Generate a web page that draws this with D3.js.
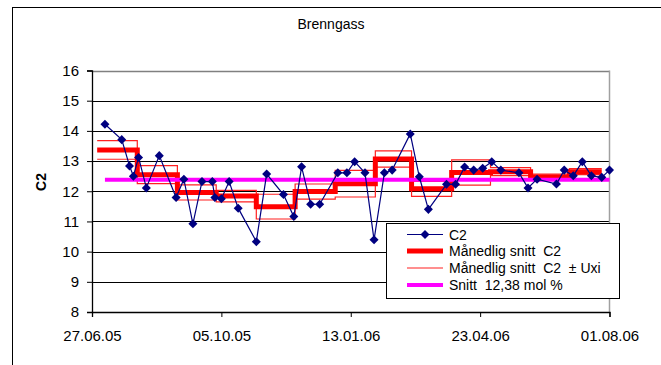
<!DOCTYPE html>
<html>
<head>
<meta charset="utf-8">
<script src="https://cdn.jsdelivr.net/npm/d3@7/dist/d3.min.js"></script>
<style>
  html, body { margin: 0; padding: 0; background: #fff; }
  svg { display: block; font-family: "Liberation Sans", Arial, sans-serif; }
</style>
</head>
<body>
<svg id="chart" width="661" height="365"></svg>
<script>
// Sample dates and measured C2 (mol %)
const sampleDates = [
  "2005-07-07","2005-07-20","2005-07-26","2005-07-29","2005-08-02","2005-08-08","2005-08-18","2005-08-31",
  "2005-09-06","2005-09-13","2005-09-20","2005-09-28","2005-09-30","2005-10-05","2005-10-11","2005-10-18",
  "2005-11-01","2005-11-09","2005-11-22","2005-11-30","2005-12-06","2005-12-13","2005-12-20","2006-01-03",
  "2006-01-10","2006-01-16","2006-01-24","2006-01-31","2006-02-08","2006-02-14","2006-02-28","2006-03-07",
  "2006-03-14","2006-03-28","2006-04-04","2006-04-11","2006-04-18","2006-04-25","2006-05-02","2006-05-09",
  "2006-05-23","2006-05-30","2006-06-06","2006-06-21","2006-06-27","2006-07-04","2006-07-11","2006-07-18",
  "2006-07-26","2006-08-01"
];
const c2Values = [
  14.22, 13.71, 12.84, 12.50, 13.12, 12.11, 13.18, 11.79,
  12.40, 10.92, 12.32, 12.32, 11.79, 11.75, 12.32, 11.44,
  10.33, 12.57, 11.89, 11.16, 12.81, 11.57, 11.57, 12.61,
  12.61, 12.98, 12.61, 10.39, 12.61, 12.70, 13.90, 12.48,
  11.40, 12.23, 12.23, 12.80, 12.70, 12.76, 12.98, 12.70,
  12.61, 12.11, 12.40, 12.24, 12.70, 12.51, 12.98, 12.51,
  12.46, 12.70
];

// Monthly periods (start of each month, last entry closes the final period)
const monthEdges = [
  "2005-07-01","2005-08-01","2005-09-01","2005-10-01","2005-11-01","2005-12-01","2006-01-01",
  "2006-02-01","2006-03-01","2006-04-01","2006-05-01","2006-06-01","2006-07-01","2006-07-26"
];
const monthlyMean = [13.37, 12.55, 11.96, 11.84, 11.49, 11.99, 12.25, 13.07, 12.08, 12.62, 12.65, 12.47, 12.65];
const monthlyU    = [0.31, 0.30, 0.25, 0.19, 0.41, 0.25, 0.44, 0.27, 0.25, 0.42, 0.13, 0.10, 0.10];

const overallMean = 12.38;

const xTickDates = ["2005-06-27","2005-10-05","2006-01-13","2006-04-23","2006-08-01"];
const yTicks = [8, 9, 10, 11, 12, 13, 14, 15, 16];

const legendLabels = ["C2", "M\u00e5nedlig snitt  C2", "M\u00e5nedlig snitt  C2  \u00b1 Uxi", "Snitt  12,38 mol %"];
const titleText = "Brenngass";
const yAxisTitle = "C2";

const parse = d3.timeParse("%Y-%m-%d");
const fmt = d3.timeFormat("%d.%m.%y");

const svg = d3.select("#chart");
const W = 661, H = 365;
const plot = { left: 92, right: 609.5, top: 70.5, bottom: 312 };

const x = d3.scaleTime()
  .domain([parse(xTickDates[0]), parse(xTickDates[xTickDates.length - 1])])
  .range([plot.left, plot.right]);
const y = d3.scaleLinear().domain([8, 16]).range([plot.bottom, plot.top]);

// Outer chart frame
svg.append("rect")
  .attr("x", 12.5).attr("y", 7.5).attr("width", W).attr("height", H)
  .attr("fill", "#fff").attr("stroke", "#000").attr("stroke-width", 1);

// Title
svg.append("text")
  .attr("x", 331).attr("y", 29)
  .attr("text-anchor", "middle")
  .attr("font-size", 14).attr("fill", "#000")
  .text(titleText);

// Horizontal gridlines
svg.append("g").selectAll("line")
  .data(yTicks.filter(v => v > 8 && v < 16))
  .join("line")
  .attr("x1", plot.left).attr("x2", plot.right)
  .attr("y1", d => Math.round(y(d)) + 0.5).attr("y2", d => Math.round(y(d)) + 0.5)
  .attr("stroke", "#000").attr("stroke-width", 1);

// Plot frame: top and right edges in grey
svg.append("line")
  .attr("x1", plot.left).attr("x2", plot.right)
  .attr("y1", Math.round(y(16)) + 0.5).attr("y2", Math.round(y(16)) + 0.5)
  .attr("stroke", "#808080").attr("stroke-width", 1.5);
svg.append("line")
  .attr("x1", plot.right).attr("x2", plot.right)
  .attr("y1", y(16)).attr("y2", y(8))
  .attr("stroke", "#a0a0a0").attr("stroke-width", 1.5);

// Y axis
const yAxis = d3.axisLeft(y).tickValues(yTicks).tickSize(5).tickPadding(8).tickFormat(d3.format("d"));
const gy = svg.append("g").attr("transform", `translate(${plot.left},0)`).call(yAxis);
gy.select(".domain").attr("stroke", "#000").attr("stroke-width", 1.3);
gy.selectAll(".tick line").attr("stroke", "#000");
gy.selectAll(".tick text").attr("font-size", 15).attr("fill", "#000")
  .attr("font-family", "'Liberation Sans', Arial, sans-serif");

// X axis
const xAxis = d3.axisBottom(x).tickValues(xTickDates.map(parse)).tickSize(5).tickPadding(13).tickFormat(fmt);
const gx = svg.append("g").attr("transform", `translate(0,${plot.bottom})`).call(xAxis);
gx.select(".domain").attr("stroke", "#000").attr("stroke-width", 1.3);
gx.selectAll(".tick line").attr("stroke", "#000");
gx.selectAll(".tick text").attr("font-size", 15).attr("fill", "#000")
  .attr("font-family", "'Liberation Sans', Arial, sans-serif");

// Y axis title
svg.append("text")
  .attr("transform", "translate(46,182) rotate(-90)")
  .attr("text-anchor", "middle")
  .attr("font-size", 14).attr("font-weight", "bold").attr("fill", "#000")
  .text(yAxisTitle);

// Monthly step series
function stepPoints(vals) {
  const pts = vals.map((v, i) => [parse(monthEdges[i]), v]);
  pts.push([parse(monthEdges[monthEdges.length - 1]), vals[vals.length - 1]]);
  return pts;
}
const stepLine = d3.line().x(d => x(d[0])).y(d => y(d[1])).curve(d3.curveStepAfter);

const upper = monthlyMean.map((m, i) => m + monthlyU[i]);
const lower = monthlyMean.map((m, i) => m - monthlyU[i]);

[upper, lower].forEach(vals => {
  svg.append("path")
    .attr("d", stepLine(stepPoints(vals)))
    .attr("fill", "none").attr("stroke", "#ff2020").attr("stroke-width", 1.2);
});

svg.append("path")
  .attr("d", stepLine(stepPoints(monthlyMean)))
  .attr("fill", "none").attr("stroke", "#ff0000").attr("stroke-width", 5);

// Overall average
svg.append("line")
  .attr("x1", x(parse(sampleDates[0]))).attr("x2", x(parse(sampleDates[sampleDates.length - 1])))
  .attr("y1", y(overallMean)).attr("y2", y(overallMean))
  .attr("stroke", "#ff00ff").attr("stroke-width", 4);

// Measured C2 line with diamond markers
const pts = sampleDates.map((d, i) => [parse(d), c2Values[i]]);
svg.append("path")
  .attr("d", d3.line().x(d => x(d[0])).y(d => y(d[1]))(pts))
  .attr("fill", "none").attr("stroke", "#000080").attr("stroke-width", 1.2);

const diamond = d3.symbol().type(d3.symbolDiamond2).size(52);
svg.append("g").selectAll("path")
  .data(pts)
  .join("path")
  .attr("transform", d => `translate(${x(d[0])},${y(d[1])})`)
  .attr("d", diamond)
  .attr("fill", "#000080");

// Legend
const lg = svg.append("g");
lg.append("rect")
  .attr("x", 386.5).attr("y", 223.5).attr("width", 233).attr("height", 75)
  .attr("fill", "#fff").attr("stroke", "#000").attr("stroke-width", 1);
const rowY = [234.5, 251, 268, 285];
const lx1 = 407, lx2 = 443;
// C2
lg.append("line").attr("x1", lx1).attr("x2", lx2).attr("y1", rowY[0]).attr("y2", rowY[0])
  .attr("stroke", "#000080").attr("stroke-width", 1.2);
lg.append("path").attr("transform", `translate(${(lx1 + lx2) / 2},${rowY[0]})`)
  .attr("d", diamond).attr("fill", "#000080");
// Monthly mean
lg.append("line").attr("x1", lx1).attr("x2", lx2).attr("y1", rowY[1]).attr("y2", rowY[1])
  .attr("stroke", "#ff0000").attr("stroke-width", 5);
// Monthly mean ± U
lg.append("line").attr("x1", lx1).attr("x2", lx2).attr("y1", rowY[2]).attr("y2", rowY[2])
  .attr("stroke", "#ff2020").attr("stroke-width", 1.2);
// Overall average
lg.append("line").attr("x1", lx1).attr("x2", lx2).attr("y1", rowY[3]).attr("y2", rowY[3])
  .attr("stroke", "#ff00ff").attr("stroke-width", 4);

lg.selectAll("text.lbl")
  .data(legendLabels)
  .join("text")
  .attr("class", "lbl")
  .attr("x", 449).attr("y", (d, i) => rowY[i] + 5)
  .attr("font-size", 14).attr("fill", "#000")
  .attr("xml:space", "preserve")
  .style("white-space", "pre")
  .text(d => d);
</script>
</body>
</html>
